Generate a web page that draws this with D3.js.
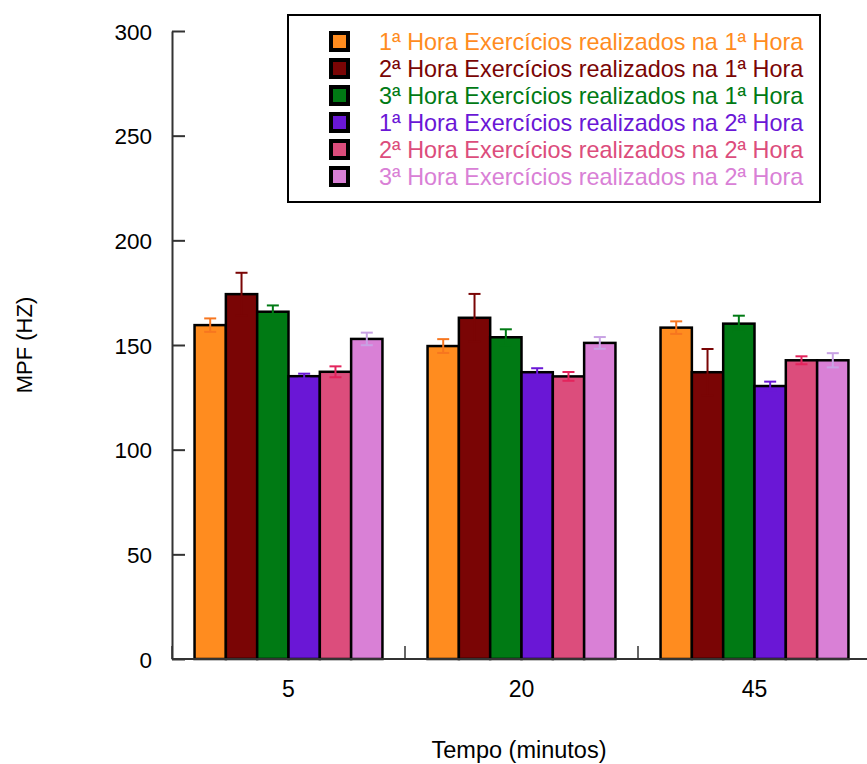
<!DOCTYPE html>
<html>
<head>
<meta charset="utf-8">
<script src="https://cdn.jsdelivr.net/npm/d3@7"></script>
<style>
  html, body { margin: 0; padding: 0; background: #fff; }
  svg { display: block; font-family: "Liberation Sans", Arial, sans-serif; }
</style>
</head>
<body>
<svg id="chart" width="867" height="764"></svg>
<script>
// Time points (minutes)
const categories = ["5", "20", "45"];

// Series names
const seriesNames = [
  "1ª Hora Exercícios realizados na 1ª Hora",
  "2ª Hora Exercícios realizados na 1ª Hora",
  "3ª Hora Exercícios realizados na 1ª Hora",
  "1ª Hora Exercícios realizados na 2ª Hora",
  "2ª Hora Exercícios realizados na 2ª Hora",
  "3ª Hora Exercícios realizados na 2ª Hora"
];

// Mean MPF (Hz) per series, one value per time point
const s1 = [159.5, 149.5, 158.3];
const s2 = [174.3, 163.0, 137.0];
const s3 = [165.9, 153.7, 160.2];
const s4 = [135.1, 137.0, 130.4];
const s5 = [137.2, 135.0, 142.7];
const s6 = [152.9, 151.0, 142.7];

// Error (± Hz) per series, one value per time point
const e1 = [3.2, 3.3, 3.0];
const e2 = [10.2, 11.4, 11.1];
const e3 = [3.0, 3.8, 3.8];
const e4 = [1.2, 1.9, 2.1];
const e5 = [2.6, 2.1, 1.9];
const e6 = [3.0, 2.8, 3.4];

const yTicks = [0, 50, 100, 150, 200, 250, 300];

const fillColors = ["#ff8c1f", "#7a0505", "#007a14", "#6a17d6", "#dc4d7c", "#d980d6"];
const errColors  = ["#f7761f", "#7a0505", "#007a14", "#6a17d6", "#e3245c", "#c8a2e4"];

const values = [s1, s2, s3, s4, s5, s6];
const errors = [e1, e2, e3, e4, e5, e6];

const svg = d3.select("#chart");

const plotLeft = 172, plotRight = 871, plotTop = 31, plotBottom = 659;

const y = d3.scaleLinear().domain([0, 300]).range([plotBottom, plotTop]);
const x0 = d3.scaleBand().domain(categories).range([plotLeft, plotRight]).padding(0);
const x1 = d3.scaleBand().domain(d3.range(seriesNames.length))
  .range([0, x0.bandwidth()]).paddingInner(0).paddingOuter(0.72);

// Flatten records for drawing
const records = [];
categories.forEach((c, ci) => {
  values.forEach((vals, si) => {
    records.push({ cat: c, s: si, v: vals[ci], e: errors[si][ci] });
  });
});

// Bars
svg.append("g").selectAll("rect")
  .data(records)
  .join("rect")
  .attr("x", d => x0(d.cat) + x1(d.s))
  .attr("y", d => y(d.v))
  .attr("width", x1.bandwidth())
  .attr("height", d => y(0) - y(d.v))
  .attr("fill", d => fillColors[d.s])
  .attr("stroke", "#000")
  .attr("stroke-width", 2.5);

// Error bars
const capHalf = 6;
const cx = d => x0(d.cat) + x1(d.s) + x1.bandwidth() / 2;
const eg = svg.append("g").selectAll("g")
  .data(records)
  .join("g")
  .attr("stroke", d => errColors[d.s])
  .attr("stroke-width", 2);
eg.append("line")
  .attr("x1", cx).attr("x2", cx)
  .attr("y1", d => y(d.v - d.e))
  .attr("y2", d => y(d.v + d.e));
eg.append("line")
  .attr("x1", d => cx(d) - capHalf).attr("x2", d => cx(d) + capHalf)
  .attr("y1", d => y(d.v + d.e)).attr("y2", d => y(d.v + d.e));
eg.append("line")
  .attr("x1", d => cx(d) - capHalf).attr("x2", d => cx(d) + capHalf)
  .attr("y1", d => y(d.v - d.e)).attr("y2", d => y(d.v - d.e));

// Y axis with inward ticks
const yAxis = svg.append("g")
  .attr("transform", `translate(${plotLeft},0)`)
  .call(d3.axisLeft(y).tickValues(yTicks).tickSize(-13).tickSizeOuter(0).tickPadding(20));
yAxis.select(".domain").attr("stroke", "#333").attr("stroke-width", 2);
yAxis.selectAll(".tick line").attr("stroke", "#333").attr("stroke-width", 2);
yAxis.selectAll(".tick text")
  .attr("fill", "#000")
  .style("font-size", "22.5px")
  .attr("dy", "0.36em");

// X axis: baseline, group separators and labels
const xAxis = svg.append("g")
  .attr("transform", `translate(0,${plotBottom})`)
  .call(d3.axisBottom(x0).tickSize(0).tickPadding(22));
xAxis.select(".domain").remove();
xAxis.selectAll(".tick text")
  .attr("fill", "#000")
  .style("font-size", "23px");
svg.append("line")
  .attr("x1", plotLeft).attr("x2", 867)
  .attr("y1", plotBottom).attr("y2", plotBottom)
  .attr("stroke", "#333").attr("stroke-width", 2);
const bounds = categories.map(c => x0(c)).concat([x0(categories[categories.length - 1]) + x0.step()]);
svg.append("g").selectAll("line")
  .data(bounds)
  .join("line")
  .attr("x1", d => d).attr("x2", d => d)
  .attr("y1", plotBottom).attr("y2", plotBottom - 13)
  .attr("stroke", "#333").attr("stroke-width", 1.5);

// Axis titles
svg.append("text")
  .attr("x", 519).attr("y", 758)
  .attr("text-anchor", "middle")
  .style("font-size", "23.5px")
  .text("Tempo (minutos)");
svg.append("text")
  .attr("transform", "translate(32,345) rotate(-90)")
  .attr("text-anchor", "middle")
  .style("font-size", "22px")
  .text("MPF (HZ)");

// Legend
const legend = svg.append("g");
legend.append("rect")
  .attr("x", 288).attr("y", 15)
  .attr("width", 532).attr("height", 187)
  .attr("fill", "#fff").attr("stroke", "#000").attr("stroke-width", 2);
const rows = legend.selectAll("g.row")
  .data(seriesNames)
  .join("g")
  .attr("class", "row")
  .attr("transform", (d, i) => `translate(0,${41.5 + i * 27})`);
rows.append("rect")
  .attr("x", 331).attr("y", -8.5)
  .attr("width", 17).attr("height", 17)
  .attr("fill", (d, i) => fillColors[i])
  .attr("stroke", "#000").attr("stroke-width", 4);
rows.append("text")
  .attr("x", 379).attr("y", 8.5)
  .attr("fill", (d, i) => fillColors[i])
  .style("font-size", "23.4px")
  .text(d => d);
</script>
</body>
</html>
